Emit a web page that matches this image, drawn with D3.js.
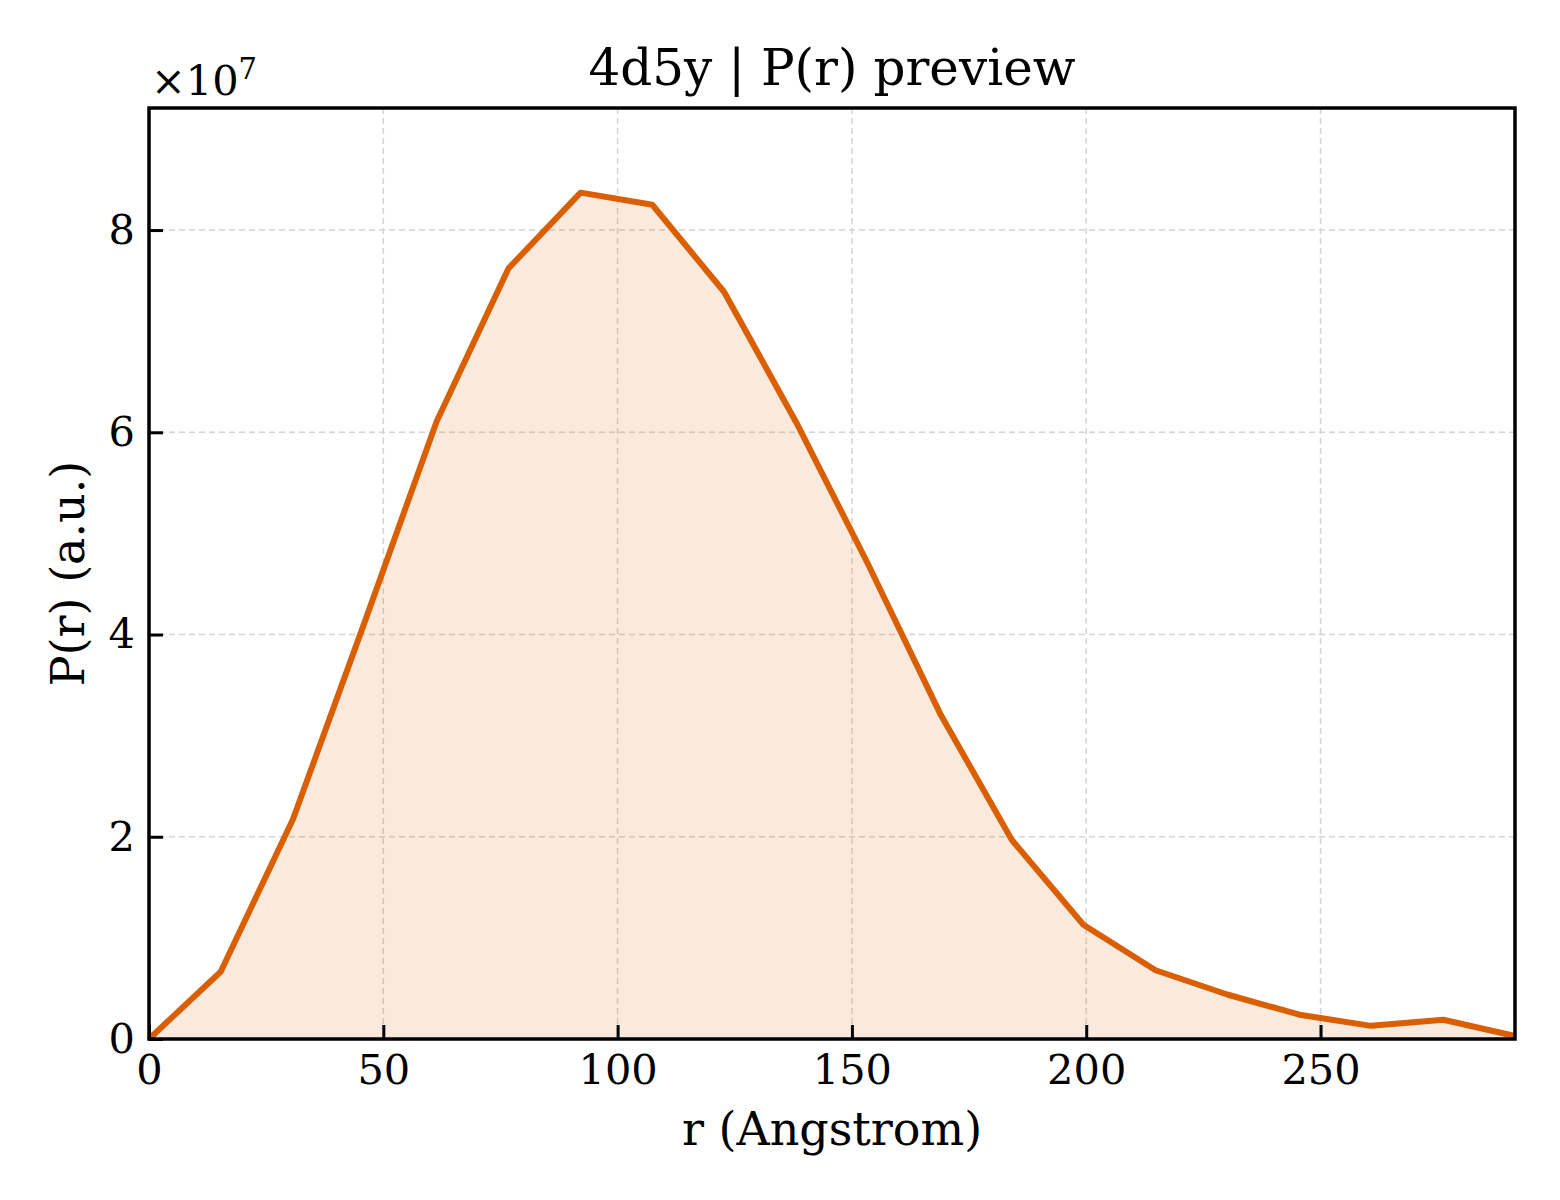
<!DOCTYPE html>
<html>
<head>
<meta charset="utf-8">
<script src="https://cdn.jsdelivr.net/npm/d3@7"></script>
<style>
    body { margin: 0; background: #fff; }
    text { font-family: "DejaVu Serif", serif; fill: #000; }
</style>
</head>
<body>
<script>
(function() {
    "use strict";

    //radius values (Angstrom)
    var rValues = [0, 15.3, 30.7, 46.0, 61.4, 76.7, 92.1, 107.4, 122.7, 138.1,
                   153.4, 168.8, 184.1, 199.4, 214.8, 230.1, 245.5, 260.8, 276.2, 291.5];
    //P(r) in units of 1e7
    var pValues = [0, 0.665, 2.17, 4.12, 6.11, 7.62, 8.37, 8.25, 7.39, 6.10,
                   4.70, 3.22, 1.97, 1.13, 0.68, 0.44, 0.24, 0.13, 0.19, 0.03];
    var xTicks = [0, 50, 100, 150, 200, 250];
    var yTicks = [0, 2, 4, 6, 8];

    var SCALE_EXP = 7;
    var data = rValues.map(function(r, i) { return { r: r, p: pValues[i] * Math.pow(10, SCALE_EXP) }; });

    var SVG_WIDTH = 1560;
    var SVG_HEIGHT = 1200;
    var margin = { top: 108, right: 45, bottom: 161, left: 149 };
    var width = SVG_WIDTH - margin.left - margin.right;
    var height = SVG_HEIGHT - margin.top - margin.bottom;

    var LINE_COLOR = "#d95f02";
    var TICK_LEN = 14;
    var TICK_FONT = 41.5;

    var svg = d3.select("body").append("svg")
        .attr("width", SVG_WIDTH)
        .attr("height", SVG_HEIGHT);

    var g = svg.append("g").attr("transform", "translate(" + margin.left + "," + margin.top + ")");

    var x = d3.scaleLinear().domain([0, d3.max(rValues)]).range([0, width]);
    var yMax = d3.max(data, function(d) { return d.p; }) * 1.1;
    var y = d3.scaleLinear().domain([0, yMax]).range([height, 0]);

    //dashed grid
    var grid = g.append("g").attr("class", "grid");
    grid.selectAll("line.gx")
        .data(xTicks)
        .enter()
        .append("line")
        .attr("x1", function(d) { return x(d); })
        .attr("x2", function(d) { return x(d); })
        .attr("y1", 0)
        .attr("y2", height);
    grid.selectAll("line.gy")
        .data(yTicks)
        .enter()
        .append("line")
        .attr("x1", 0)
        .attr("x2", width)
        .attr("y1", function(d) { return y(d * Math.pow(10, SCALE_EXP)); })
        .attr("y2", function(d) { return y(d * Math.pow(10, SCALE_EXP)); });
    grid.selectAll("line")
        .attr("stroke", "#d4d4d4")
        .attr("stroke-width", 1.5)
        .attr("stroke-dasharray", "6,4");

    //shaded area under the curve
    var area = d3.area()
        .x(function(d) { return x(d.r); })
        .y0(height)
        .y1(function(d) { return y(d.p); });
    g.append("path")
        .datum(data)
        .attr("d", area)
        .attr("fill", LINE_COLOR)
        .attr("fill-opacity", 0.13);

    var line = d3.line()
        .x(function(d) { return x(d.r); })
        .y(function(d) { return y(d.p); });
    g.append("path")
        .datum(data)
        .attr("d", line)
        .attr("fill", "none")
        .attr("stroke", LINE_COLOR)
        .attr("stroke-width", 6)
        .attr("stroke-linejoin", "round");

    //axes with inward ticks
    var xAxis = g.append("g")
        .attr("transform", "translate(0," + height + ")")
        .call(d3.axisBottom(x).tickValues(xTicks).tickSize(-TICK_LEN).tickPadding(16));
    var yAxis = g.append("g")
        .call(d3.axisLeft(y)
            .tickValues(yTicks.map(function(d) { return d * Math.pow(10, SCALE_EXP); }))
            .tickFormat(function(d) { return d / Math.pow(10, SCALE_EXP); })
            .tickSize(-TICK_LEN).tickPadding(14));
    [xAxis, yAxis].forEach(function(ax) {
        ax.select(".domain").remove();
        ax.selectAll(".tick line").attr("stroke", "#000").attr("stroke-width", 3);
        ax.selectAll(".tick text").attr("font-size", TICK_FONT).attr("font-family", "DejaVu Serif").attr("fill", "#000");
    });

    //frame around the plot
    g.append("rect")
        .attr("width", width)
        .attr("height", height)
        .attr("fill", "none")
        .attr("stroke", "#000")
        .attr("stroke-width", 3.5);

    //offset label
    var offset = svg.append("text")
        .attr("x", margin.left + 2)
        .attr("y", margin.top - 13)
        .attr("font-size", TICK_FONT);
    offset.append("tspan").text("\u00d710");
    offset.append("tspan").attr("dy", -16).attr("font-size", 29).text(SCALE_EXP);

    //title and axis labels
    svg.append("text")
        .attr("x", margin.left + width / 2)
        .attr("y", 85)
        .attr("text-anchor", "middle")
        .attr("font-size", 50)
        .text("4d5y | P(r) preview");
    svg.append("text")
        .attr("x", margin.left + width / 2)
        .attr("y", 1145)
        .attr("text-anchor", "middle")
        .attr("font-size", 46)
        .text("r (Angstrom)");
    svg.append("text")
        .attr("transform", "translate(84," + (margin.top + height / 2) + ") rotate(-90)")
        .attr("text-anchor", "middle")
        .attr("font-size", 46)
        .text("P(r) (a.u.)");
}());
</script>
</body>
</html>
